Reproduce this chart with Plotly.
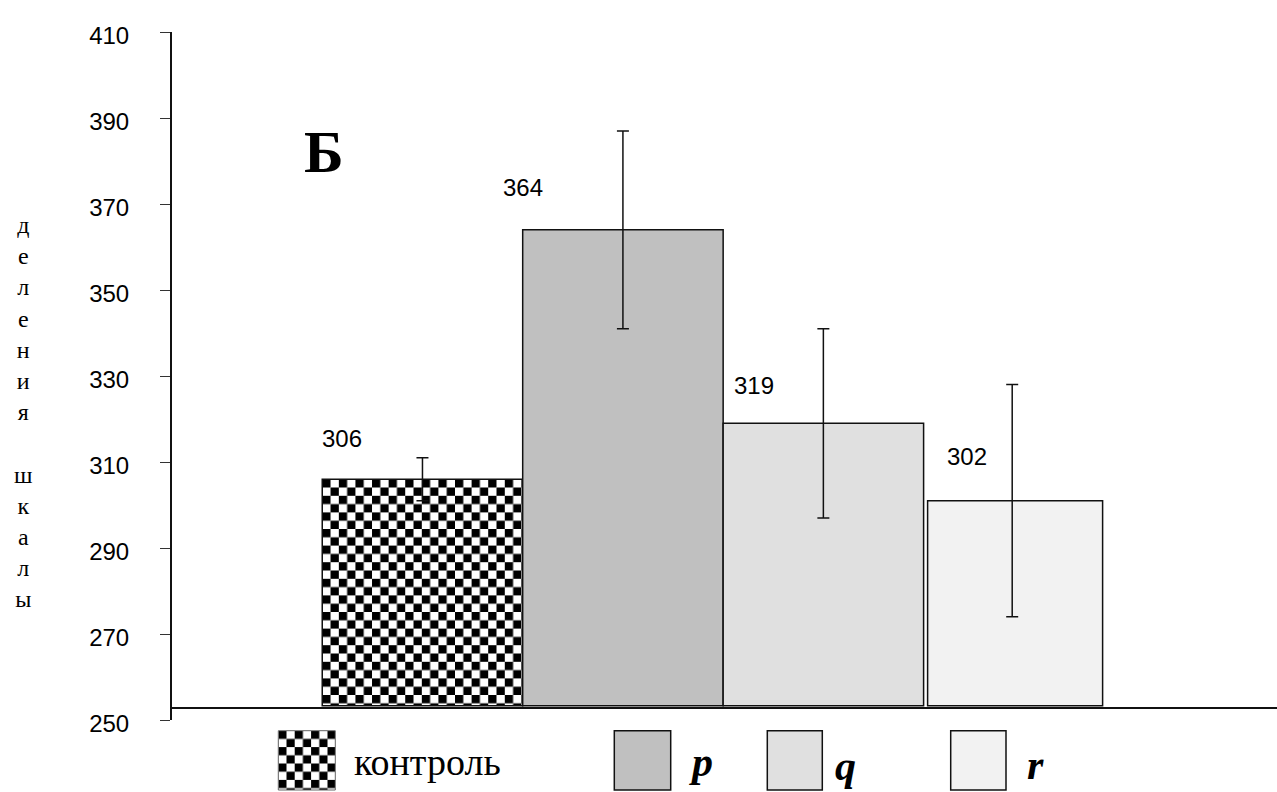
import base64
import plotly.graph_objects as go

# ---------------- data ----------------
categories = ["контроль", "p", "q", "r"]
values = [306, 364, 319, 301]
errors = [5, 23, 22, 27]
value_labels = ["306", "364", "319", "302"]
y_ticks = [250, 270, 290, 310, 330, 350, 370, 390, 410]
axis_title = "деления шкалы"
panel_label = "Б"

# ---------------- layout constants ----------------
W, H = 1277, 792
ML, MR, MT, MB = 172, 0, 32, 72
PW, PH = W - ML - MR, H - MT - MB
X_RANGE = [-1.2495, 4.263]
Y_RANGE = [250, 410]
BASE = 253.3
UNIT_PX = PW / (X_RANGE[1] - X_RANGE[0])
Y_PX = PH / (Y_RANGE[1] - Y_RANGE[0])

bar_width = [1, 1, 1, 0.873]
bar_offset = [-0.5, -0.5, -0.5, -0.48]
err_dx = [0, 0, 0, -0.058]
label_dx_px = [-80, -100, -69, -57]
label_dy_px = [41, 42, 38, 44]
fills = ["rgba(0,0,0,0)", "#c0c0c0", "#e0e0e0", "#f2f2f2"]
idx = list(range(len(categories)))


def px2paper(px, py):
    return (px - ML) / PW, (H - MB - py) / PH


def checker_uri(w, h, cell):
    svg = (
        f"<svg xmlns='http://www.w3.org/2000/svg' width='{w:.1f}' height='{h:.1f}' "
        f"viewBox='0 0 {w:.1f} {h:.1f}' preserveAspectRatio='none'>"
        f"<defs><pattern id='c' width='{2*cell}' height='{2*cell}' patternUnits='userSpaceOnUse'>"
        f"<rect width='{2*cell}' height='{2*cell}' fill='white'/>"
        f"<rect width='{cell}' height='{cell}' fill='black'/>"
        f"<rect x='{cell}' y='{cell}' width='{cell}' height='{cell}' fill='black'/>"
        f"</pattern></defs><rect width='100%' height='100%' fill='url(#c)'/></svg>"
    )
    return "data:image/svg+xml;base64," + base64.b64encode(svg.encode()).decode()


fig = go.Figure()

fig.add_trace(go.Bar(
    x=idx,
    y=[v - BASE for v in values],
    base=BASE,
    width=bar_width,
    offset=bar_offset,
    marker=dict(color=fills, line=dict(color="#111111", width=1.5)),
    showlegend=False,
    hoverinfo="skip",
))

fig.add_trace(go.Scatter(
    x=[i + d for i, d in zip(idx, err_dx)],
    y=values,
    mode="markers",
    marker=dict(size=1, opacity=0),
    error_y=dict(type="data", array=errors, symmetric=True,
                 color="#111111", thickness=1.5, width=6),
    showlegend=False,
    hoverinfo="skip",
))

images = []
# checker fill of the control bar
cw = bar_width[0] * UNIT_PX
ch = (values[0] - BASE) * Y_PX
images.append(dict(
    source=checker_uri(cw, ch, 8.3),
    xref="x", yref="y",
    x=idx[0] + bar_offset[0], y=values[0],
    sizex=bar_width[0], sizey=values[0] - BASE,
    xanchor="left", yanchor="top", sizing="stretch", layer="below",
))

annotations = []
for i, lab in enumerate(value_labels):
    annotations.append(dict(
        x=idx[i], y=values[i], xref="x", yref="y",
        text=lab, showarrow=False,
        xshift=label_dx_px[i], yshift=label_dy_px[i],
        font=dict(family="Liberation Sans, Arial", size=24, color="black"),
    ))

# panel letter
bx, by = px2paper(323.7, 151.7)
annotations.append(dict(
    x=bx, y=by, xref="paper", yref="paper", text=f"<b>{panel_label}</b>",
    showarrow=False, xanchor="center", yanchor="middle",
    font=dict(family="Liberation Serif, Times New Roman", size=60, color="black"),
))

# vertical axis title, one letter per line
letters = "<br>".join(ch_ if ch_ != " " else " " for ch_ in axis_title)
tx, ty = px2paper(23, 411.5)
annotations.append(dict(
    x=tx, y=ty, xref="paper", yref="paper", text=letters,
    showarrow=False, xanchor="center", yanchor="middle", align="center",
    font=dict(family="Liberation Serif, Times New Roman", size=24, color="black"),
))

# custom legend
shapes = []
legend_boxes = [(278.3, 335.3), (614.3, 670.7), (767.3, 822.3), (950.7, 1006.0)]
box_top, box_bot = 730.7, 790.0
for i, (lx0, lx1) in enumerate(legend_boxes):
    x0, y0 = px2paper(lx0, box_bot)
    x1, y1 = px2paper(lx1, box_top)
    if i == 0:
        images.append(dict(
            source=checker_uri(lx1 - lx0, box_bot - box_top, 8.2),
            xref="paper", yref="paper", x=x0, y=y1,
            sizex=x1 - x0, sizey=y1 - y0,
            xanchor="left", yanchor="top", sizing="stretch", layer="above",
        ))
        shapes.append(dict(type="rect", xref="paper", yref="paper",
                           x0=x0, y0=y0, x1=x1, y1=y1,
                           line=dict(color="#666666", width=1), fillcolor="rgba(0,0,0,0)"))
    else:
        shapes.append(dict(type="rect", xref="paper", yref="paper",
                           x0=x0, y0=y0, x1=x1, y1=y1,
                           line=dict(color="#111111", width=1.5), fillcolor=fills[i]))

legend_text_pos = [(353, 762), (688, 762), (834, 766), (1026, 765)]
for i, (lx, ly) in enumerate(legend_text_pos):
    px_, py_ = px2paper(lx, ly)
    if i == 0:
        txt = categories[i]
        fnt = dict(family="Liberation Serif, Times New Roman", size=38, color="black")
    else:
        txt = f"<b><i>{categories[i]}</i></b>"
        fnt = dict(family="Liberation Serif, Times New Roman", size=42, color="black")
    annotations.append(dict(
        x=px_, y=py_, xref="paper", yref="paper", text=txt, showarrow=False,
        xanchor="left", yanchor="middle", font=fnt, borderpad=0,
    ))

fig.update_layout(
    width=W, height=H,
    margin=dict(l=ML, r=MR, t=MT, b=MB, autoexpand=False),
    paper_bgcolor="white", plot_bgcolor="white",
    images=images, shapes=shapes, annotations=annotations,
    showlegend=False,
    xaxis=dict(
        range=X_RANGE, showgrid=False, zeroline=False, showticklabels=False,
        ticks="", showline=True, linecolor="#111111", linewidth=2,
        anchor="free", position=(BASE - 0.5 - Y_RANGE[0]) / (Y_RANGE[1] - Y_RANGE[0]),
        fixedrange=True,
    ),
    yaxis=dict(
        range=Y_RANGE, tickvals=y_ticks, ticktext=[str(t) for t in y_ticks],
        showgrid=False, zeroline=False, showline=True, linecolor="#111111", linewidth=2,
        ticks="outside", ticklen=10, tickwidth=1, tickcolor="#333333",
        ticklabelstandoff=26, ticklabelshift=4,
        tickfont=dict(family="Liberation Sans, Arial", size=24, color="black"),
        fixedrange=True,
    ),
)

fig.write_html("out.html")
